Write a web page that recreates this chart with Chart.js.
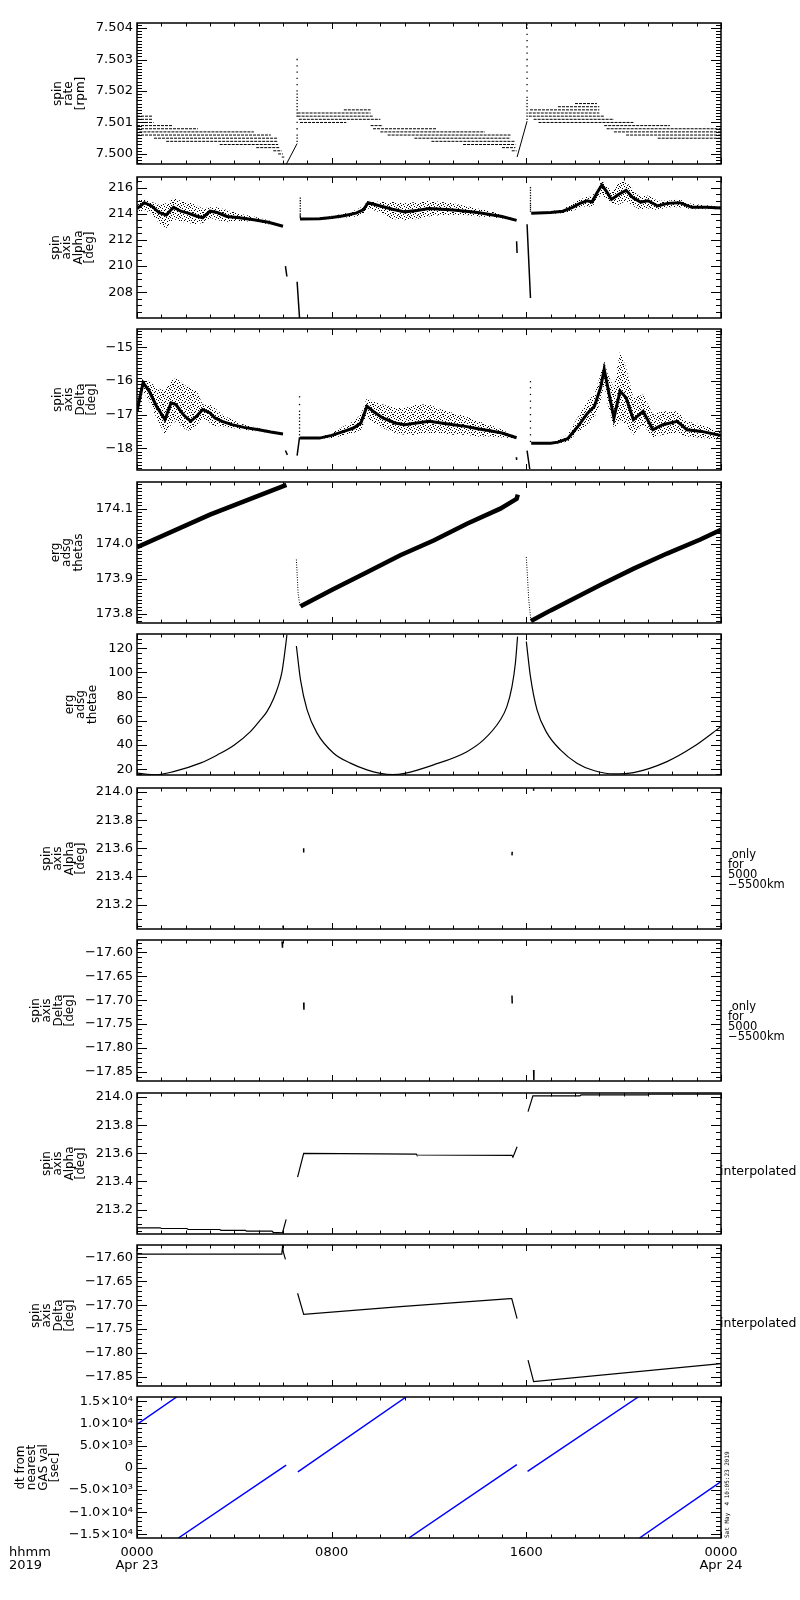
<!DOCTYPE html>
<html>
<head>
<meta charset="utf-8">
<title>ERG spin axis summary</title>
<script src="https://cdn.jsdelivr.net/npm/chart.js@4.4.1/dist/chart.umd.min.js"></script>
<style>
  html, body { margin: 0; padding: 0; background: #ffffff; }
  #wrap { position: relative; width: 800px; height: 1600px; overflow: hidden; background: #ffffff; }
  #wrap canvas { position: absolute; left: 0; }
</style>
</head>
<body>
<div id="wrap"></div>
<script>
// ================= DATA =================
// time axis (hours of 2019-04-23)
const hourTicks = [0, 8, 16, 24];
const hourTickLabels = [['0000', 'Apr 23'], '0800', '1600', ['0000', 'Apr 24']];
const axisCaption = ['hhmm', '2019'];
const stampText = 'Sat May  4 10:05:23 2019';

// Panel 1: spin rate [rpm] - quantised horizontal bands (level, start hour, end hour)
const rateLevels1 = [7.5012, 7.5011, 7.5010, 7.5009, 7.5008, 7.5007, 7.5006, 7.5005, 7.5004, 7.5003, 7.5002, 7.5001, 7.5000, 7.4999];
const rateStart1  = [0, 0, 0, 0, 0, 0.1, 0, 0.7, 1.2, 3.4, 4.9, 5.6, 5.8, 5.95];
const rateEnd1    = [0.65, 0.65, 0.68, 1.45, 2.5, 4.8, 5.5, 5.8, 5.8, 5.8, 5.85, 5.95, 6.0, 6.05];
const rateLevels2 = [7.5014, 7.5013, 7.5012, 7.5011, 7.5010, 7.5009, 7.5008, 7.5007, 7.5006, 7.5005, 7.5004, 7.5003, 7.5002, 7.5001];
const rateStart2  = [8.5, 6.6, 6.6, 6.65, 6.7, 9.6, 9.7, 10.0, 10.3, 11.4, 12.1, 13.4, 15.0, 15.4];
const rateEnd2    = [9.6, 9.6, 9.7, 10.0, 8.6, 10.1, 12.3, 14.3, 15.35, 15.35, 15.55, 15.55, 15.55, 15.6];
const rateLevels3 = [7.5016, 7.5015, 7.5014, 7.5013, 7.5012, 7.5011, 7.5010, 7.5009, 7.5008, 7.5007, 7.5006, 7.5005];
const rateStart3  = [18.0, 17.3, 16.15, 16.1, 16.1, 16.3, 16.5, 19.2, 19.3, 19.6, 20.1, 21.4];
const rateEnd3    = [18.9, 19.0, 19.0, 19.0, 19.2, 19.6, 20.4, 21.9, 24, 24, 24, 24];
const rateRampT = [[6.14, 6.58], [15.62, 16.03]];
const rateRampV = [[7.49968, 7.50033], [7.49990, 7.50104]];
const rateSpikeT = [6.58, 16.03];
const rateSpikeV1 = [7.5004, 7.5005, 7.5006, 7.5008, 7.5010, 7.5012, 7.5013, 7.5014, 7.5015, 7.5016, 7.5017, 7.5018, 7.5019, 7.5020, 7.5022, 7.5024, 7.5026, 7.5028, 7.5030];
const rateSpikeV2 = [7.5011, 7.5012, 7.5013, 7.5014, 7.5015, 7.5016, 7.5017, 7.5018, 7.5020, 7.5022, 7.5024, 7.5026, 7.5028, 7.5030, 7.5032, 7.5034, 7.5036, 7.5038, 7.5040, 7.5041];

// Panel 2: spin axis Alpha [deg] - dense trace and scatter envelope
const alphaT1    = [0, 0.3, 0.6, 0.9, 1.2, 1.5, 1.8, 2.1, 2.4, 2.7, 3.0, 3.3, 3.7, 4.2, 4.8, 5.4, 6.0];
const alphaCore1 = [214.4, 214.85, 214.6, 214.1, 213.9, 214.5, 214.2, 214.05, 213.85, 213.7, 214.2, 214.1, 213.8, 213.7, 213.55, 213.35, 213.05];
const alphaHi1   = [215.0, 215.1, 214.9, 214.7, 214.8, 215.2, 215.0, 214.9, 214.7, 214.4, 214.5, 214.5, 214.3, 214.0, 213.8, 213.5, 213.15];
const alphaLo1   = [213.9, 214.3, 214.0, 213.3, 212.9, 213.6, 213.4, 213.3, 213.2, 213.3, 213.7, 213.5, 213.4, 213.45, 213.4, 213.2, 213.0];
const alphaT2    = [6.7, 7.5, 8.0, 8.5, 9.0, 9.3, 9.5, 10.0, 10.5, 11.0, 11.5, 12.0, 12.5, 13.0, 13.5, 14.0, 14.5, 15.0, 15.6];
const alphaCore2 = [213.6, 213.62, 213.72, 213.85, 214.05, 214.3, 214.85, 214.6, 214.35, 214.15, 214.25, 214.4, 214.35, 214.3, 214.2, 214.1, 213.95, 213.8, 213.5];
const alphaHi2   = [213.65, 213.7, 213.85, 214.0, 214.3, 214.6, 215.0, 214.9, 214.9, 214.8, 214.9, 215.0, 214.9, 214.8, 214.6, 214.4, 214.2, 213.95, 213.55];
const alphaLo2   = [213.55, 213.55, 213.6, 213.7, 213.8, 214.0, 214.4, 214.1, 213.6, 213.5, 213.6, 213.8, 213.9, 213.9, 213.9, 213.8, 213.75, 213.65, 213.45];
const alphaT3    = [16.2, 17.0, 17.5, 17.9, 18.2, 18.5, 18.7, 18.9, 19.1, 19.3, 19.5, 19.8, 20.1, 20.4, 20.7, 21.0, 21.4, 21.8, 22.3, 22.8, 23.4, 24.0];
const alphaCore3 = [214.05, 214.1, 214.2, 214.5, 214.8, 215.0, 214.9, 215.6, 216.2, 215.7, 215.1, 215.5, 215.8, 215.2, 214.9, 215.0, 214.6, 214.8, 214.85, 214.5, 214.5, 214.45];
const alphaHi3   = [214.1, 214.2, 214.35, 214.8, 215.1, 215.3, 215.3, 216.0, 216.5, 216.2, 215.6, 216.4, 216.5, 215.8, 215.3, 215.4, 215.0, 215.0, 215.1, 214.75, 214.65, 214.55];
const alphaLo3   = [214.0, 214.0, 214.05, 214.2, 214.5, 214.6, 214.5, 215.1, 215.5, 215.1, 214.8, 214.7, 215.0, 214.6, 214.3, 214.4, 214.3, 214.5, 214.5, 214.35, 214.35, 214.35];
const alphaMarkT = [[6.10, 6.16], [6.58, 6.68], [15.60, 15.62], [16.03, 16.17]];
const alphaMarkV = [[210.0, 209.2], [208.8, 206.0], [211.9, 211.0], [213.2, 207.55]];
const alphaSpikeT = [6.71, 16.17];
const alphaSpikeV1 = [213.7, 213.8, 213.9, 214.0, 214.2, 214.4, 214.6, 214.8, 215.0, 215.2];
const alphaSpikeV2 = [214.2, 214.35, 214.5, 214.65, 214.8, 215.0, 215.2, 215.4, 215.6, 215.8, 216.0];

// Panel 3: spin axis Delta [deg]
const deltaT1    = [0, 0.25, 0.5, 0.8, 1.15, 1.4, 1.6, 1.9, 2.2, 2.45, 2.7, 3.0, 3.2, 3.5, 3.9, 4.4, 5.0, 5.5, 6.0];
const deltaCore1 = [-16.9, -16.05, -16.3, -16.75, -17.15, -16.65, -16.7, -17.0, -17.2, -17.05, -16.85, -16.95, -17.1, -17.2, -17.3, -17.38, -17.45, -17.52, -17.58];
const deltaHi1   = [-16.6, -15.95, -16.0, -16.2, -16.3, -16.0, -15.9, -16.1, -16.2, -16.3, -16.7, -16.7, -16.8, -17.0, -17.15, -17.3, -17.4, -17.48, -17.56];
const deltaLo1   = [-17.1, -16.3, -16.6, -17.1, -17.6, -17.3, -17.2, -17.4, -17.5, -17.35, -17.1, -17.25, -17.35, -17.35, -17.4, -17.45, -17.5, -17.55, -17.6];
const deltaT2    = [6.7, 7.5, 8.0, 8.5, 8.9, 9.2, 9.45, 9.7, 10.1, 10.6, 11.0, 11.5, 12.0, 12.5, 13.0, 13.5, 14.0, 14.5, 15.0, 15.6];
const deltaCore2 = [-17.7, -17.7, -17.62, -17.5, -17.4, -17.25, -16.75, -16.9, -17.1, -17.25, -17.3, -17.25, -17.2, -17.25, -17.3, -17.35, -17.42, -17.48, -17.55, -17.69];
const deltaHi2   = [-17.68, -17.67, -17.55, -17.35, -17.2, -17.0, -16.5, -16.6, -16.7, -16.8, -16.8, -16.7, -16.7, -16.85, -16.95, -17.05, -17.2, -17.3, -17.45, -17.67];
const deltaLo2   = [-17.72, -17.72, -17.7, -17.62, -17.55, -17.45, -17.05, -17.25, -17.4, -17.55, -17.6, -17.6, -17.55, -17.55, -17.6, -17.6, -17.65, -17.65, -17.68, -17.71];
const deltaT3    = [16.2, 17.0, 17.3, 17.7, 18.1, 18.5, 18.8, 19.05, 19.2, 19.35, 19.6, 19.85, 20.1, 20.4, 20.8, 21.2, 21.6, 22.2, 22.6, 23.2, 24.0];
const deltaCore3 = [-17.85, -17.85, -17.82, -17.72, -17.37, -16.97, -16.75, -16.2, -15.65, -16.2, -17.1, -16.3, -16.5, -17.15, -16.9, -17.45, -17.3, -17.2, -17.45, -17.5, -17.62];
const deltaHi3   = [-17.83, -17.82, -17.75, -17.6, -17.1, -16.6, -16.4, -15.8, -15.4, -15.8, -16.2, -15.1, -15.6, -16.5, -16.4, -17.0, -16.9, -16.9, -17.2, -17.3, -17.5];
const deltaLo3   = [-17.87, -17.87, -17.86, -17.8, -17.55, -17.3, -17.1, -16.6, -16.1, -16.7, -17.4, -17.2, -17.3, -17.6, -17.3, -17.7, -17.6, -17.55, -17.65, -17.7, -17.75];
const deltaMarkT = [[6.10, 6.18], [6.58, 6.68], [15.59, 15.60], [16.03, 16.14]];
const deltaMarkV = [[-18.07, -18.2], [-18.22, -17.67], [-18.27, -18.35], [-18.07, -18.62]];
const deltaSpikeT = [6.68, 16.17];
const deltaSpikeV1 = [-17.6, -17.5, -17.4, -17.3, -17.2, -17.1, -17.0, -16.9, -16.7, -16.47];
const deltaSpikeV2 = [-17.8, -17.6, -17.4, -17.2, -17.0, -16.8, -16.6, -16.4, -16.2, -16.02];

// Panel 4: erg adsg thetas
const thetasT = [[0, 3.0, 6.14], [6.72, 7.0, 8.08, 9.45, 10.82, 12.19, 13.56, 14.93, 15.6, 15.65], [16.19, 17.0, 18.0, 19.04, 20.41, 21.78, 23.15, 24.0]];
const thetasV = [[173.990, 174.083, 174.168], [173.822, 173.832, 173.871, 173.919, 173.967, 174.009, 174.057, 174.100, 174.128, 174.140], [173.780, 173.810, 173.845, 173.882, 173.929, 173.972, 174.012, 174.040]];
const thetasDropT = [[6.55, 6.62, 6.70], [16.0, 16.1, 16.19]];
const thetasDropV = [[173.955, 173.860, 173.820], [173.962, 173.840, 173.780]];

// Panel 5: erg adsg thetae
const thetaeT = [
  [0, 0.8, 1.5, 2.6, 3.3, 4.0, 4.66, 5.07, 5.34, 5.62, 5.82, 5.96, 6.05, 6.12, 6.16],
  [6.55, 6.72, 6.99, 7.4, 8.08, 8.77, 9.45, 10.0, 10.5, 11.0, 12.19, 13.56, 14.24, 14.93, 15.2, 15.41, 15.55, 15.64],
  [16.0, 16.17, 16.44, 16.85, 17.4, 18.08, 18.77, 19.59, 20.41, 21.78, 22.88, 24.0]
];
const thetaeV = [
  [16.7, 15.4, 18.0, 25.0, 31.8, 40.1, 51.1, 60.7, 67.6, 78.7, 89.7, 100.7, 113.1, 124.1, 131.0],
  [121.9, 93.8, 69.0, 49.8, 33.2, 25.0, 19.4, 16.6, 15.6, 16.6, 23.6, 34.5, 44.2, 60.7, 71.7, 88.3, 107.6, 129.6],
  [125.5, 96.5, 69.0, 49.8, 36.0, 25.0, 18.9, 16.1, 17.2, 26.3, 38.7, 55.2]
];

// Panels 6/7: values only for 5000-5500 km
const onlyAlphaT = [[6.0, 6.0], [6.85, 6.85], [15.41, 15.42], [16.3, 16.3]];
const onlyAlphaV = [[213.035, 213.05], [213.57, 213.60], [213.55, 213.575], [214.01, 214.03]];
const onlyDeltaT = [[5.96, 5.98], [6.85, 6.86], [15.41, 15.42], [16.3, 16.31]];
const onlyDeltaV = [[-17.577, -17.59], [-17.705, -17.72], [-17.69, -17.707], [-17.846, -17.867]];

// Panels 8/9: interpolated
const interpAlphaT = [[0, 0.95, 1.0, 2.05, 2.1, 3.4, 3.45, 4.45, 4.5, 5.55, 5.6, 5.98, 6.13], [6.6, 6.85, 11.48, 11.5, 15.41, 15.45, 15.62], [16.07, 16.27, 18.2, 18.25, 21.0, 21.05, 24.0]];
const interpAlphaV = [[213.07, 213.07, 213.065, 213.065, 213.058, 213.058, 213.052, 213.052, 213.046, 213.046, 213.038, 213.035, 213.13], [213.43, 213.60, 213.594, 213.588, 213.585, 213.573, 213.646], [213.897, 214.009, 214.009, 214.015, 214.015, 214.02, 214.021]];
const interpDeltaT = [[0, 5.95, 5.98, 6.02, 6.1], [6.6, 6.85, 10.82, 15.34, 15.4, 15.62], [16.07, 16.3, 24.0]];
const interpDeltaV = [[-17.593, -17.593, -17.578, -17.59, -17.604], [-17.675, -17.719, -17.703, -17.686, -17.686, -17.728], [-17.815, -17.86, -17.822]];

// Panel 10: dt from nearest GAS val [sec]
const gasDtT = [[0, 1.63], [1.70, 6.13], [6.61, 11.06], [11.17, 15.61], [16.05, 20.6], [20.65, 24]];
const gasDtV = [[9800, 15950], [-15800, 600], [-900, 15950], [-15800, 700], [-800, 15950], [-15800, -3100]];

// ================= HELPERS =================
const pts = (T, V) => T.map((t, i) => ({ x: t, y: V[i] }));
const pieces = (TT, VV) => TT.flatMap((T, i) => [...pts(T, VV[i]), { x: T[T.length - 1], y: null }]);
const bands = (L, S, E) => L.flatMap((l, i) => [{ x: S[i], y: l }, { x: E[i], y: l }, { x: E[i], y: null }]);
const column = (t, V) => V.map(v => ({ x: t, y: v }));
const MINUS = '\u2212';
const minus = s => String(s).replace('-', MINUS);
const SUP = { '0': '\u2070', '1': '\u00b9', '2': '\u00b2', '3': '\u00b3', '4': '\u2074', '5': '\u2075', '6': '\u2076', '7': '\u2077', '8': '\u2078', '9': '\u2079', '-': '\u207b' };
function sci(v) {
  if (Math.abs(v) < 1e-9) return '0';
  const e = Math.floor(Math.log10(Math.abs(v)) + 1e-9);
  const m = v / Math.pow(10, e);
  return minus(m.toFixed(1)) + '\u00d710' + String(e).split('').map(c => SUP[c]).join('');
}

// speckle texture used to paint the scatter clouds (a fixed style bitmap)
const SPECKLE = [
  '1000010000',
  '0001000010',
  '0100000100',
  '0000100001',
  '1000001000',
  '0010000010',
  '0000010000',
  '0100100001',
  '0000000100',
  '0011000000'
];
function specklePattern() {
  const c = document.createElement('canvas');
  c.width = SPECKLE[0].length; c.height = SPECKLE.length;
  const g = c.getContext('2d');
  g.fillStyle = '#000';
  SPECKLE.forEach((row, y) => row.split('').forEach((ch, x) => { if (ch === '1') g.fillRect(x, y, 1, 1); }));
  return g.createPattern(c, 'repeat');
}
const PATTERN = specklePattern();

const line = (data, extra) => Object.assign({ data, borderColor: '#000000', borderWidth: 1, pointRadius: 0, fill: false, spanGaps: false, tension: 0 }, extra || {});
const dots = data => ({ data, showLine: false, pointRadius: 0.9, pointStyle: 'rect', pointBackgroundColor: '#000', pointBorderWidth: 0, borderColor: '#000' });
const cloud = (T, lo, hi, core) => [
  line(pts(T, lo), { borderColor: 'rgba(0,0,0,0)' }),
  line(pts(T, hi), { borderColor: 'rgba(0,0,0,0)', fill: '-1', backgroundColor: PATTERN }),
  line(pts(T, core), { borderWidth: 3 })
];

// ================= AXES PLUGIN (IDL-style frame, inward ticks, side texts) =================
const idlAxes = {
  id: 'idlAxes',
  afterDatasetsDraw(chart, args, o) {
    const { ctx, chartArea: a } = chart;
    const xs = chart.scales.x, ys = chart.scales.y;
    ctx.save();
    ctx.strokeStyle = '#000';
    ctx.lineWidth = 1;
    ctx.beginPath();
    for (let h = 0; h <= 24; h++) {
      const px = Math.round(xs.getPixelForValue(h)) + 0.5;
      const len = hourTicks.includes(h) ? 6 : 3.5;
      ctx.moveTo(px, a.top); ctx.lineTo(px, a.top + len);
      ctx.moveTo(px, a.bottom); ctx.lineTo(px, a.bottom - len);
    }
    const ms = o.step / o.minor;
    const k0 = Math.ceil(ys.min / ms - 1e-6), k1 = Math.floor(ys.max / ms + 1e-6);
    for (let k = k0; k <= k1; k++) {
      const py = Math.round(ys.getPixelForValue(k * ms)) + 0.5;
      const major = (((k % o.minor) + o.minor) % o.minor) === 0;
      const len = major ? 10 : 5;
      ctx.moveTo(a.left, py); ctx.lineTo(a.left + len, py);
      ctx.moveTo(a.right, py); ctx.lineTo(a.right - len, py);
    }
    ctx.stroke();
    ctx.lineWidth = 1.5;
    ctx.strokeRect(a.left, a.top, a.right - a.left, a.bottom - a.top);

    ctx.fillStyle = '#000';
    if (o.side) {
      ctx.font = o.side.font;
      ctx.textAlign = 'left';
      ctx.textBaseline = 'middle';
      const cy = (a.top + a.bottom) / 2;
      o.side.lines.forEach((t, i) => ctx.fillText(t, o.side.x, cy + o.side.dy[i]));
    }
    if (o.stamp) {
      ctx.save();
      ctx.translate(729, a.bottom);
      ctx.rotate(-Math.PI / 2);
      ctx.font = "6px 'DejaVu Sans Mono', monospace";
      ctx.textAlign = 'left';
      ctx.textBaseline = 'alphabetic';
      ctx.fillText(stampText, 0, 0);
      ctx.restore();
    }
    if (o.caption) {
      ctx.font = "13px 'DejaVu Sans', sans-serif";
      ctx.textAlign = 'left';
      ctx.textBaseline = 'middle';
      ctx.fillText(axisCaption[0], 9, a.bottom + 15);
      ctx.fillText(axisCaption[1], 9, a.bottom + 28);
    }
    ctx.restore();
  }
};

// ================= PANELS =================
Chart.defaults.font.family = "'DejaVu Sans', sans-serif";
Chart.defaults.font.size = 13;
Chart.defaults.color = '#000';

const TITLE_FONT = { family: "'DejaVu Sans', sans-serif", size: 12, lineHeight: 0.96 };
const SIDE_ONLY = { lines: [' only', 'for', '5000', MINUS + '5500km'], x: 728, dy: [-3, 7, 17, 27], font: "11.5px 'DejaVu Sans', sans-serif" };
const SIDE_INTERP = { lines: ['interpolated'], x: 720, dy: [8], font: "12.5px 'DejaVu Sans', sans-serif" };

const panels = [
  { title: ['spin', 'rate', '[rpm]'], tp: 52, min: 7.49968, max: 7.50416, step: 0.001, minor: 10, fmt: v => v.toFixed(3),
    datasets: [
      line(bands(rateLevels1, rateStart1, rateEnd1), { borderDash: [3, 1] }),
      line(bands(rateLevels2, rateStart2, rateEnd2), { borderDash: [3, 1] }),
      line(bands(rateLevels3, rateStart3, rateEnd3), { borderDash: [3, 1] }),
      line(pieces(rateRampT, rateRampV)),
      dots(column(rateSpikeT[0], rateSpikeV1)),
      dots(column(rateSpikeT[1], rateSpikeV2))
    ] },
  { title: ['spin', 'axis', 'Alpha', '[deg]'], tp: 50, min: 206.02, max: 216.82, step: 2, minor: 4, fmt: v => v.toFixed(0),
    datasets: [
      ...cloud(alphaT1, alphaLo1, alphaHi1, alphaCore1),
      ...cloud(alphaT2, alphaLo2, alphaHi2, alphaCore2),
      ...cloud(alphaT3, alphaLo3, alphaHi3, alphaCore3),
      line(pieces(alphaMarkT, alphaMarkV), { borderWidth: 1.5 }),
      dots(column(alphaSpikeT[0], alphaSpikeV1)),
      dots(column(alphaSpikeT[1], alphaSpikeV2))
    ] },
  { title: ['spin', 'axis', 'Delta', '[deg]'], tp: 52, min: -18.65, max: -14.45, step: 1, minor: 10, fmt: v => minus(v.toFixed(0)),
    datasets: [
      ...cloud(deltaT1, deltaLo1, deltaHi1, deltaCore1),
      ...cloud(deltaT2, deltaLo2, deltaHi2, deltaCore2),
      ...cloud(deltaT3, deltaLo3, deltaHi3, deltaCore3),
      line(pieces(deltaMarkT, deltaMarkV), { borderWidth: 1.5 }),
      dots(column(deltaSpikeT[0], deltaSpikeV1)),
      dots(column(deltaSpikeT[1], deltaSpikeV2))
    ] },
  { title: ['erg', 'adsg', 'thetas'], tp: 50, min: 173.774, max: 174.176, step: 0.1, minor: 10, fmt: v => v.toFixed(1),
    datasets: [
      line(pieces(thetasT, thetasV), { borderWidth: 4.5 }),
      line(pieces(thetasDropT, thetasDropV), { borderDash: [1, 1.5] })
    ] },
  { title: ['erg', 'adsg', 'thetae'], tp: 64, min: 15.2, max: 131.8, step: 20, minor: 5, fmt: v => v.toFixed(0),
    datasets: [ line(pieces(thetaeT, thetaeV), { borderWidth: 1.2, cubicInterpolationMode: 'monotone' }) ] },
  { title: ['spin', 'axis', 'Alpha', '[deg]'], tp: 41, min: 213.026, max: 214.029, step: 0.2, minor: 4, fmt: v => v.toFixed(1), side: SIDE_ONLY,
    datasets: [ line(pieces(onlyAlphaT, onlyAlphaV), { borderWidth: 1.5 }) ] },
  { title: ['spin', 'axis', 'Delta', '[deg]'], tp: 30, min: -17.869, max: -17.574, step: 0.05, minor: 5, fmt: v => minus(v.toFixed(2)), side: SIDE_ONLY,
    datasets: [ line(pieces(onlyDeltaT, onlyDeltaV), { borderWidth: 1.5 }) ] },
  { title: ['spin', 'axis', 'Alpha', '[deg]'], tp: 41, min: 213.026, max: 214.029, step: 0.2, minor: 4, fmt: v => v.toFixed(1), side: SIDE_INTERP,
    datasets: [ line(pieces(interpAlphaT, interpAlphaV), { borderWidth: 1.2 }) ] },
  { title: ['spin', 'axis', 'Delta', '[deg]'], tp: 30, min: -17.869, max: -17.574, step: 0.05, minor: 5, fmt: v => minus(v.toFixed(2)), side: SIDE_INTERP,
    datasets: [ line(pieces(interpDeltaT, interpDeltaV), { borderWidth: 1.2 }) ] },
  { title: ['dt from', 'nearest', 'GAS val', '[sec]'], tp: 15, min: -15800, max: 15950, step: 5000, minor: 5, fmt: sci, last: true,
    datasets: [ line(pieces(gasDtT, gasDtV), { borderColor: '#0000ff', borderWidth: 1.5 }) ] }
];

const panelTops = [23, 177, 329, 482, 634, 788, 940, 1093, 1245, 1397];
const PLOT_H = 141, PAD = 14, AREA_LEFT = 137, AREA_RIGHT = 721, W = 800;
const wrap = document.getElementById('wrap');

// major tick values: multiples of the step inside the axis range
function majorTicks(min, max, step) {
  const out = [];
  for (let k = Math.ceil(min / step - 1e-9); k * step <= max + 1e-12; k++) {
    out.push({ value: Math.round(k * step * 1e6) / 1e6 });
  }
  return out;
}

panels.forEach((p, i) => {
  const last = !!p.last;
  const top = panelTops[i] - PAD;
  const h = last ? 1600 - top : PLOT_H + 2 * PAD;
  const canvas = document.createElement('canvas');
  canvas.width = W; canvas.height = h;
  canvas.style.top = top + 'px';
  canvas.style.width = W + 'px';
  canvas.style.height = h + 'px';
  wrap.appendChild(canvas);

  const xScale = {
    type: 'linear', min: 0, max: 24, bounds: 'data', display: last,
    grid: { display: false, drawTicks: false }, border: { display: false },
    ticks: {
      stepSize: 8, autoSkip: false, maxRotation: 0, padding: 8.5,
      font: { size: 13, lineHeight: 1.0 },
      callback: v => { const k = hourTicks.indexOf(v); return k >= 0 ? hourTickLabels[k] : ''; }
    }
  };
  if (last) xScale.afterFit = s => { s.height = 1600 - (panelTops[i] + PLOT_H); };

  new Chart(canvas, {
    type: 'line',
    data: { datasets: p.datasets },
    plugins: [idlAxes],
    options: {
      responsive: false,
      animation: false,
      events: [],
      layout: { padding: { left: 0, right: W - AREA_RIGHT, top: PAD, bottom: last ? 0 : PAD } },
      plugins: {
        legend: { display: false },
        tooltip: { enabled: false },
        idlAxes: { step: p.step, minor: p.minor, side: p.side || null, stamp: last, caption: last }
      },
      scales: {
        x: xScale,
        y: {
          type: 'linear', position: 'left', min: p.min, max: p.max, bounds: 'data',
          grid: { display: false, drawTicks: false }, border: { display: false },
          ticks: { autoSkip: false, padding: 4, font: { size: 13 }, callback: v => p.fmt(v) },
          afterBuildTicks: s => { s.ticks = majorTicks(p.min, p.max, p.step); },
          title: { display: true, text: p.title, color: '#000', font: TITLE_FONT, padding: { top: p.tp, bottom: 0 } },
          afterFit: s => { s.width = AREA_LEFT; }
        }
      }
    }
  });
});
</script>
</body>
</html>
